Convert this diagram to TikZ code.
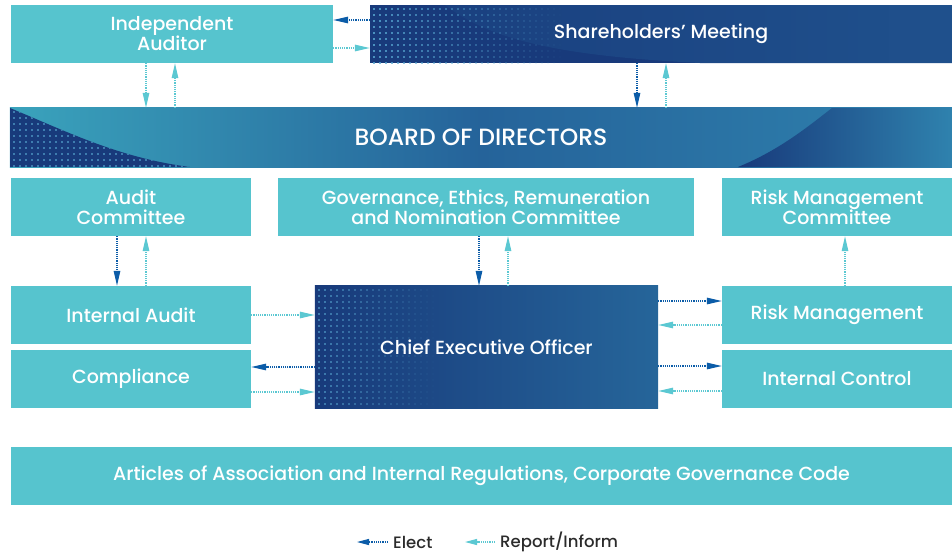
\documentclass[tikz,border=0pt]{standalone}
\usepackage{fontspec}
\setmainfont{Poppins}[UprightFont={* Medium}]
\usetikzlibrary{arrows.meta,backgrounds}
\definecolor{boxcyan}{HTML}{56C4CE}
\definecolor{navy}{HTML}{183A7B}
\definecolor{midblue}{HTML}{25639A}
\definecolor{lightteal}{HTML}{3AA3BC}
\definecolor{rightblue}{HTML}{2F82AE}
\definecolor{dotblue}{HTML}{58A8D2}
\definecolor{electblue}{HTML}{0B5CA8}
\definecolor{reportcyan}{HTML}{5BC8D2}
\definecolor{legendgray}{HTML}{2B2B2B}
\begin{document}
\begin{tikzpicture}[x=1pt,y=-1pt,
    box/.style={fill=boxcyan,text=white,align=center,inner sep=0pt,minimum height=58pt,font=\fontsize{19}{20}\selectfont},
    darkbox/.style={text=white,align=center,inner sep=0pt,font=\fontsize{19}{20}\selectfont},
    elect/.style={draw=electblue,line width=1.2pt,densely dotted,-{Triangle[length=15pt,width=6.5pt,fill=electblue]}},
    report/.style={draw=reportcyan,line width=1.2pt,densely dotted,-{Triangle[length=15pt,width=6.5pt,fill=reportcyan]}},
    legend/.style={anchor=west,inner sep=0pt,text=legendgray,font=\fontsize{16.5}{18}\selectfont}]
    \useasboundingbox (0,0) rectangle (952,554);

    % top row
    \node[box,minimum width=322pt] (aud) at (172,34) {Independent\\Auditor};
    \node[darkbox,minimum width=582pt,minimum height=58pt] (sh) at (661,34) {Shareholders’ Meeting};
    % board
    \node[darkbox,minimum width=942pt,minimum height=59pt,font=\fontsize{23.5}{24}\selectfont] (bod) at (481,137.5) {BOARD OF DIRECTORS};
    % committees
    \node[box,minimum width=240pt] (ac) at (131,207) {Audit\\Committee};
    \node[box,minimum width=416pt] (gov) at (486,207) {Governance, Ethics, Remuneration\\and Nomination Committee};
    \node[box,minimum width=230pt] (rmc) at (837,207) {Risk Management\\Committee};
    % functions
    \node[box,minimum width=240pt] (ia) at (131,315) {Internal Audit};
    \node[box,minimum width=240pt] (comp) at (131,379) {Compliance};
    \node[darkbox,minimum width=343pt,minimum height=122pt] (ceo) at (486.5,347) {Chief Executive Officer};
    \node[box,minimum width=230pt] (rm) at (837,315) {Risk Management};
    \node[box,minimum width=230pt] (ic) at (837,379) {Internal Control};
    % bottom
    \node[box,minimum width=941pt] (art) at (481.5,476) {Articles of Association and Internal Regulations, Corporate Governance Code};

    % backgrounds of the dark boxes
    \begin{pgfonlayer}{background}
        % shareholders
        \fill[navy] (sh.north west) rectangle (sh.south east);
        \begin{scope}
            \clip (sh.north west) rectangle (sh.south east);
            \shade[left color=navy!85!midblue,right color=midblue!55!navy] (445,5) .. controls (490,40) and (560,56) .. (700,63) -- (952,63) -- (952,5) -- cycle;
            \foreach \px [evaluate=\px as \op using {max(0,0.8-(\px-373)/240)}] in {373,379,...,580}
                \foreach \py in {8,14,...,62}
                    \fill[dotblue,opacity=\op] (\px,\py) rectangle ++(1.6,1.6);
        \end{scope}
        % board
        \shade[left color=lightteal,right color=rightblue,middle color=midblue] (bod.north west) rectangle (bod.south east);
        \begin{scope}
            \clip (10,108) .. controls (70,133) and (120,158) .. (190,167) -- (10,167) -- cycle;
            \fill[navy] (10,108) rectangle (190,167);
            \foreach \px in {13,19,...,190}
                \foreach \py in {111,117,...,166}
                    \fill[dotblue,opacity=0.6] (\px,\py) rectangle ++(1.6,1.6);
        \end{scope}
        \shade[left color=navy,right color=rightblue] (738,167) .. controls (780,150) and (810,125) .. (832,108) -- (952,108) -- (952,167) -- cycle;
        % chief executive officer
        \shade[left color=navy,middle color=navy,right color=rightblue!60!navy] (ceo.north west) rectangle (ceo.south east);
        \begin{scope}
            \clip (ceo.north west) rectangle (ceo.south east);
            \foreach \px [evaluate=\px as \op using {max(0,0.6-(\px-318)/200)}] in {318,324,...,470}
                \foreach \py in {289,295,...,406}
                    \fill[dotblue,opacity=\op] (\px,\py) rectangle ++(1.6,1.6);
        \end{scope}
    \end{pgfonlayer}

    % auditor and shareholders
    \draw[elect] ([yshift=14pt]sh.west) -- ([yshift=14pt]aud.east);
    \draw[report] ([yshift=-14pt]aud.east) -- ([yshift=-14pt]sh.west);
    \draw[report] ([xshift=-26pt]aud.south) -- ([xshift=-26pt]aud.south |- bod.north);
    \draw[report] ([xshift=3pt]aud.south |- bod.north) -- ([xshift=3pt]aud.south);
    \draw[elect] ([xshift=-24pt]sh.south) -- ([xshift=-24pt]sh.south |- bod.north);
    \draw[report] ([xshift=5pt]sh.south |- bod.north) -- ([xshift=5pt]sh.south);
    % committees and below
    \draw[elect] ([xshift=-14pt]ac.south) -- ([xshift=-14pt]ia.north);
    \draw[report] ([xshift=15pt]ia.north) -- ([xshift=15pt]ac.south);
    \draw[elect] ([xshift=-7pt]gov.south) -- ([xshift=-7pt]gov.south |- ceo.north);
    \draw[report] ([xshift=22pt]gov.south |- ceo.north) -- ([xshift=22pt]gov.south);
    \draw[report] ([xshift=8pt]rm.north) -- ([xshift=8pt]rmc.south);
    % around the chief executive officer
    \draw[report] (ia.east) -- (ia.east -| ceo.west);
    \draw[elect] ([yshift=12pt]comp.east -| ceo.west) -- ([yshift=12pt]comp.east);
    \draw[report] ([yshift=-13pt]comp.east) -- ([yshift=-13pt]comp.east -| ceo.west);
    \draw[elect] ([yshift=14pt]rm.west -| ceo.east) -- ([yshift=14pt]rm.west);
    \draw[report] ([yshift=-10pt]rm.west) -- ([yshift=-10pt]rm.west -| ceo.east);
    \draw[elect] ([yshift=13pt]ic.west -| ceo.east) -- ([yshift=13pt]ic.west);
    \draw[report] ([yshift=-12pt]ic.west) -- ([yshift=-12pt]ic.west -| ceo.east);

    % legend
    \node[legend] (elt) at (393,542) {Elect};
    \coordinate (elc) at (357,542);
    \draw[elect,-{Triangle[length=12pt,width=6pt,fill=electblue]}] ([xshift=-5pt]elt.west) -- (elc);
    \node[legend] (rpt) at (500,542) {Report/Inform};
    \coordinate (rpc) at (465,542);
    \draw[report,-{Triangle[length=12pt,width=6pt,fill=reportcyan]}] ([xshift=-5pt]rpt.west) -- (rpc);
\end{tikzpicture}
\end{document}
